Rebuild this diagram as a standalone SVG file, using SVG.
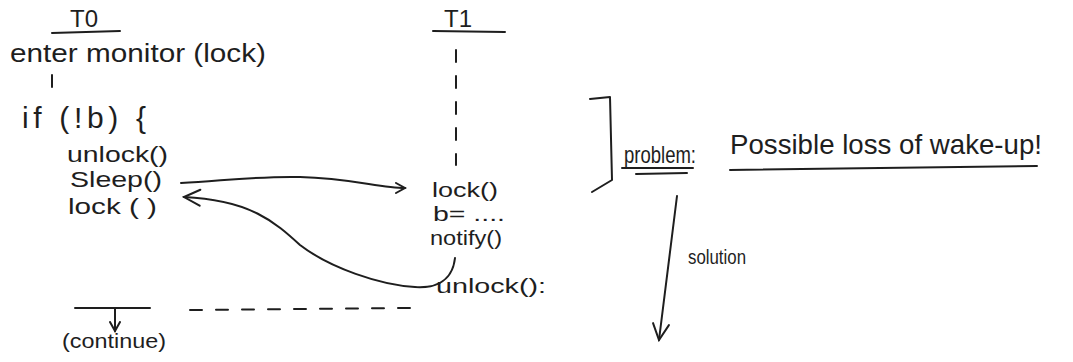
<svg xmlns="http://www.w3.org/2000/svg" width="1073" height="362" viewBox="0 0 1073 362">
<style>
text{font-family:"Liberation Sans","DejaVu Sans",sans-serif;fill:#1e1e1e}
.t{font-size:24px}
.s{font-size:20px}
.ln{stroke:#1e1e1e;stroke-width:2;fill:none;stroke-linecap:round;stroke-linejoin:round}
.dash{stroke-dasharray:12 14}
</style>
<defs>
<marker id="ah" viewBox="0 0 12 12" refX="10" refY="6" markerWidth="12" markerHeight="12" markerUnits="userSpaceOnUse" orient="auto">
<path d="M1,1 L10,6 L1,11" fill="none" stroke="#1e1e1e" stroke-width="2" stroke-linecap="round"/>
</marker>
<marker id="ahb" viewBox="0 0 20 20" refX="18" refY="10" markerWidth="20" markerHeight="20" markerUnits="userSpaceOnUse" orient="auto">
<path d="M2,2 L18,10 L2,18" fill="none" stroke="#1e1e1e" stroke-width="2" stroke-linecap="round"/>
</marker>
</defs>
<rect width="1073" height="362" fill="#ffffff"/>
<g id="t0">
<text class="t" x="70" y="27">T0</text>
<line class="ln" x1="52" y1="33" x2="120" y2="31"/>
<text x="10" y="62" style="font-size:26px" textLength="256" lengthAdjust="spacingAndGlyphs">enter monitor (lock)</text>
<text x="22" y="128" style="font-size:30px" textLength="124" lengthAdjust="spacing">if (!b) {</text>
<text x="67" y="162" style="font-size:22px" textLength="101" lengthAdjust="spacingAndGlyphs">unlock()</text>
<text x="70" y="187" style="font-size:22px" textLength="92" lengthAdjust="spacingAndGlyphs">Sleep()</text>
<text x="68" y="214" style="font-size:22px" textLength="89" lengthAdjust="spacingAndGlyphs">lock ( )</text>
</g>
<g id="t1">
<text class="t" x="444" y="27">T1</text>
<line class="ln" x1="433" y1="31" x2="505" y2="32"/>
<text class="s" x="432" y="197" textLength="66" lengthAdjust="spacingAndGlyphs">lock()</text>
<text class="s" x="433" y="221" textLength="72" lengthAdjust="spacingAndGlyphs">b= ....</text>
<text class="s" x="430" y="245" textLength="72" lengthAdjust="spacingAndGlyphs">notify()</text>
<text class="s" x="436" y="293" textLength="110" lengthAdjust="spacingAndGlyphs">unlock():</text>
</g>
<g id="continue">
<line class="ln" x1="75" y1="308" x2="150" y2="308"/>
<text class="s" x="62" y="348" textLength="104" lengthAdjust="spacingAndGlyphs">(continue)</text>
</g>
<g id="problem">
<path class="ln" d="M590,99 L610,97 L612,180 L592,192"/>
<text x="624" y="163" style="font-size:24px" textLength="72" lengthAdjust="spacingAndGlyphs">problem:</text>
<line class="ln" x1="622" y1="168" x2="693" y2="168"/>
<line class="ln" x1="636" y1="174" x2="687" y2="173"/>
<text x="730" y="154" style="font-size:28px" textLength="312" lengthAdjust="spacingAndGlyphs">Possible loss of wake-up!</text>
<line class="ln" x1="730" y1="170" x2="1037" y2="166"/>
</g>
<g id="solution">
<text x="688" y="264" style="font-size:20px" textLength="58" lengthAdjust="spacingAndGlyphs">solution</text>
</g>
<g id="connectors">
<line class="ln dash" x1="52" y1="75" x2="52" y2="94"/>
<line class="ln dash" x1="456" y1="50" x2="456" y2="165"/>
<path class="ln" d="M181,183 C230,180 260,176 300,177 C350,178 380,188 405,188" marker-end="url(#ah)"/>
<path class="ln" d="M455,258 C452,285 430,288 415,287 C380,285 330,268 300,245 C275,222 250,200 184,197" marker-end="url(#ahb)"/>
<line class="ln" x1="115" y1="309" x2="115" y2="331" marker-end="url(#ah)"/>
<line class="ln dash" x1="190" y1="310" x2="410" y2="308"/>
<path class="ln" d="M677,196 L659,340" marker-end="url(#ahb)"/>
</g>
</svg>
